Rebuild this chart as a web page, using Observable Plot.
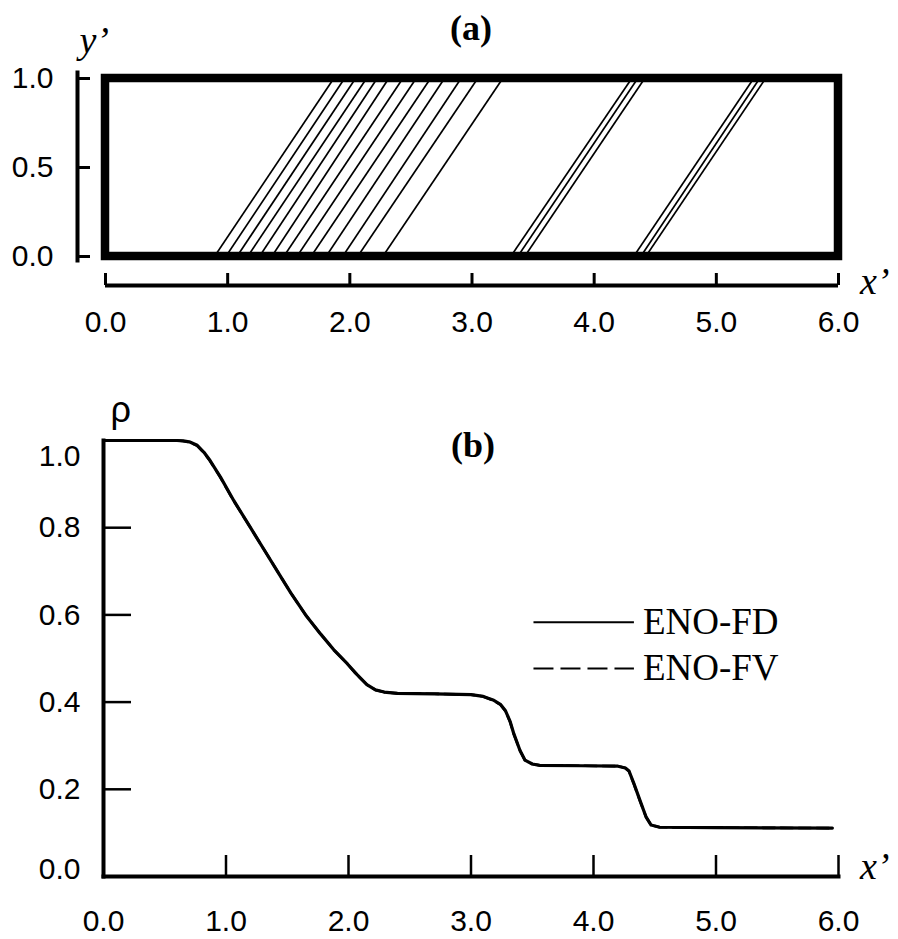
<!DOCTYPE html>
<html>
<head>
<meta charset="utf-8">
<script src="https://cdn.jsdelivr.net/npm/d3@7"></script>
<script src="https://cdn.jsdelivr.net/npm/@observablehq/plot@0.6"></script>
<style>
  body { margin: 0; background: #fff; }
  #chart { width: 898px; }
  #chart svg { display: block; }
</style>
</head>
<body>
<div id="chart"></div>
<script>
// ---------- Data ----------
// Panel (a): contour lines, x' where each line meets y'=0 and y'=1
const contourBottom = [0.892, 0.985, 1.076, 1.164, 1.260, 1.361, 1.459, 1.567, 1.682, 1.805, 1.941, 2.064, 2.269,
                       3.317, 3.374, 3.431,
                       4.323, 4.381, 4.422];
const contourTop    = [1.868, 1.956, 2.046, 2.136, 2.223, 2.318, 2.433, 2.542, 2.660, 2.774, 2.910, 3.046, 3.251,
                       4.307, 4.356, 4.413,
                       5.305, 5.354, 5.403];

// Panel (b): density profile
const rhoX  = [0.00, 0.30, 0.60, 0.65, 0.70, 0.765, 0.82, 0.87, 0.955, 1.064, 1.20, 1.31, 1.42, 1.53, 1.65, 1.77, 1.88, 1.99,
               2.07, 2.15, 2.22, 2.29, 2.40, 2.70, 3.00, 3.10, 3.18, 3.24, 3.28, 3.32, 3.35, 3.40, 3.44, 3.50, 3.56,
               3.90, 4.20, 4.26, 4.29, 4.33, 4.38, 4.43, 4.47, 4.54, 5.00, 5.95];
const rhoFD = [1.000, 1.000, 1.000, 0.999, 0.997, 0.989, 0.973, 0.954, 0.916, 0.862, 0.800, 0.750, 0.700, 0.650, 0.600, 0.557, 0.520, 0.488,
               0.463, 0.440, 0.428, 0.423, 0.420, 0.419, 0.417, 0.413, 0.405, 0.395, 0.381, 0.355, 0.327, 0.289, 0.267, 0.258, 0.255,
               0.254, 0.253, 0.249, 0.242, 0.213, 0.174, 0.136, 0.118, 0.113, 0.112, 0.111];
const rhoFV = [1.000, 1.000, 1.000, 0.999, 0.996, 0.988, 0.972, 0.953, 0.915, 0.861, 0.800, 0.750, 0.700, 0.650, 0.600, 0.557, 0.520, 0.488,
               0.462, 0.440, 0.428, 0.423, 0.420, 0.419, 0.417, 0.413, 0.404, 0.394, 0.380, 0.354, 0.326, 0.289, 0.267, 0.258, 0.255,
               0.254, 0.253, 0.249, 0.241, 0.212, 0.173, 0.136, 0.118, 0.113, 0.112, 0.111];

const seriesNames = ["ENO-FD", "ENO-FV"];
const xTicks  = [0, 1, 2, 3, 4, 5, 6];
const yTicksA = [0, 0.5, 1.0];
const yTicksB = [0, 0.2, 0.4, 0.6, 0.8, 1.0];

// legend placement (data units of panel b)
const legendX = [3.51, 4.33];
const legendY = [0.583, 0.477];

// ---------- Derived tables ----------
const contours = contourBottom.map((b, i) => ({ b, t: contourTop[i], y0: yTicksA[0], y1: yTicksA[yTicksA.length - 1] }));
const box = [{ x1: xTicks[0], x2: xTicks[xTicks.length - 1], y1: yTicksA[0], y2: yTicksA[yTicksA.length - 1] }];
const fd = rhoX.map((x, i) => ({ x, y: rhoFD[i] }));
const fv = rhoX.map((x, i) => ({ x, y: rhoFV[i] }));
const legend = seriesNames.map((name, i) => ({ name, x1: legendX[0], x2: legendX[1], y: legendY[i] }));

const sans = "'Liberation Sans', Arial, Helvetica, sans-serif";
const serif = "'Liberation Serif', 'Times New Roman', serif";
const W = 898;
const FS = 30;
const yB0 = yTicksB[0], yB1 = yTicksB[yTicksB.length - 1];

// ---------- Panel (a) ----------
const plotA = Plot.plot({
  width: W, height: 340,
  marginLeft: 77, marginRight: 60, marginTop: 72, marginBottom: 80,
  x: { domain: [xTicks[0], xTicks[xTicks.length - 1]], insetLeft: 28 },
  y: { domain: [yTicksA[0], yTicksA[yTicksA.length - 1]], insetTop: 6, insetBottom: 4 },
  style: { fontFamily: sans, fontSize: FS + "px", color: "black", background: "white", overflow: "visible" },
  marks: [
    Plot.link(contours, { x1: "b", y1: "y0", x2: "t", y2: "y1", stroke: "black", strokeWidth: 1.7 }),
    Plot.rect(box, { x1: "x1", x2: "x2", y1: "y1", y2: "y2", fill: "none", stroke: "black", strokeWidth: 8.5, strokeLinejoin: "miter" }),
    Plot.frame({ anchor: "left", strokeWidth: 4 }),
    Plot.axisY({ ticks: yTicksA, tickFormat: ".1f", tickSize: -13, tickPadding: 37, strokeWidth: 3, label: null, fontSize: FS }),
    Plot.ruleY(box, { y: "y1", x1: "x1", x2: "x2", dy: 29, strokeWidth: 4 }),
    Plot.axisX({ ticks: xTicks, tickFormat: ".1f", tickSize: -12, dy: 25, tickPadding: 37, strokeWidth: 3, label: null, fontSize: FS }),
    Plot.text(["(a)"], { text: d => d, frameAnchor: "top", dx: 13, dy: -58, fontFamily: serif, fontWeight: "bold", fontSize: 36 }),
    Plot.text(["y\u2019"], { text: d => d, frameAnchor: "top-left", dx: 2, dy: -46, fontFamily: serif, fontStyle: "italic", fontSize: 38 }),
    Plot.text(["x\u2019"], { text: d => d, frameAnchor: "bottom-right", dx: 51, dy: 33, fontFamily: serif, fontStyle: "italic", fontSize: 38 })
  ]
});

// ---------- Panel (b) ----------
const plotB = Plot.plot({
  width: W, height: 599,
  marginLeft: 103, marginRight: 60, marginTop: 100, marginBottom: 63,
  x: { domain: [xTicks[0], xTicks[xTicks.length - 1]] },
  y: { domain: [yB0, yB1] },
  style: { fontFamily: sans, fontSize: FS + "px", color: "black", background: "white", overflow: "visible" },
  marks: [
    Plot.frame({ anchor: "left", strokeWidth: 4 }),
    Plot.frame({ anchor: "bottom", strokeWidth: 4 }),
    Plot.axisY({ ticks: yTicksB.slice(1, -1), tickSize: -28, tickFormat: ".1f", tickPadding: 51, strokeWidth: 2.5, label: null, fontSize: FS }),
    Plot.axisY({ ticks: [yB1], tickSize: 0, tickPadding: 23, tickFormat: ".1f", dy: 16, label: null, fontSize: FS }),
    Plot.axisY({ ticks: [yB0], tickSize: 0, tickPadding: 23, tickFormat: ".1f", dy: -7, label: null, fontSize: FS }),
    Plot.axisX({ ticks: xTicks, tickSize: -21, tickPadding: 54, tickFormat: ".1f", strokeWidth: 2.5, label: null, fontSize: FS }),
    Plot.line(fd, { x: "x", y: "y", stroke: "black", strokeWidth: 3.2 }),
    Plot.line(fv, { x: "x", y: "y", stroke: "black", strokeWidth: 2.6, strokeDasharray: "12,6" }),
    Plot.link(legend, { x1: "x1", x2: "x2", y1: "y", y2: "y", stroke: "black", strokeWidth: 2 }),
    Plot.text(legend, { x: "x2", y: "y", text: "name", dx: 9, textAnchor: "start", fontFamily: serif, fontSize: 37 }),
    Plot.text(["\u03c1"], { text: d => d, frameAnchor: "top-left", dx: 7, dy: -44, fontFamily: sans, fontSize: 36 }),
    Plot.text(["(b)"], { text: d => d, frameAnchor: "top", dx: 2, dy: -9, fontFamily: serif, fontWeight: "bold", fontSize: 36 }),
    Plot.text(["x\u2019"], { text: d => d, frameAnchor: "bottom-right", dx: 51, dy: 2, fontFamily: serif, fontStyle: "italic", fontSize: 38 })
  ]
});

// dashed legend sample for the second series
plotB.querySelectorAll("g[aria-label='link'] line, g[aria-label='link'] path").forEach((el, i) => {
  if (i === 1) el.setAttribute("stroke-dasharray", "20,7");
});

const root = document.getElementById("chart");
root.appendChild(plotA);
root.appendChild(plotB);
</script>
</body>
</html>
